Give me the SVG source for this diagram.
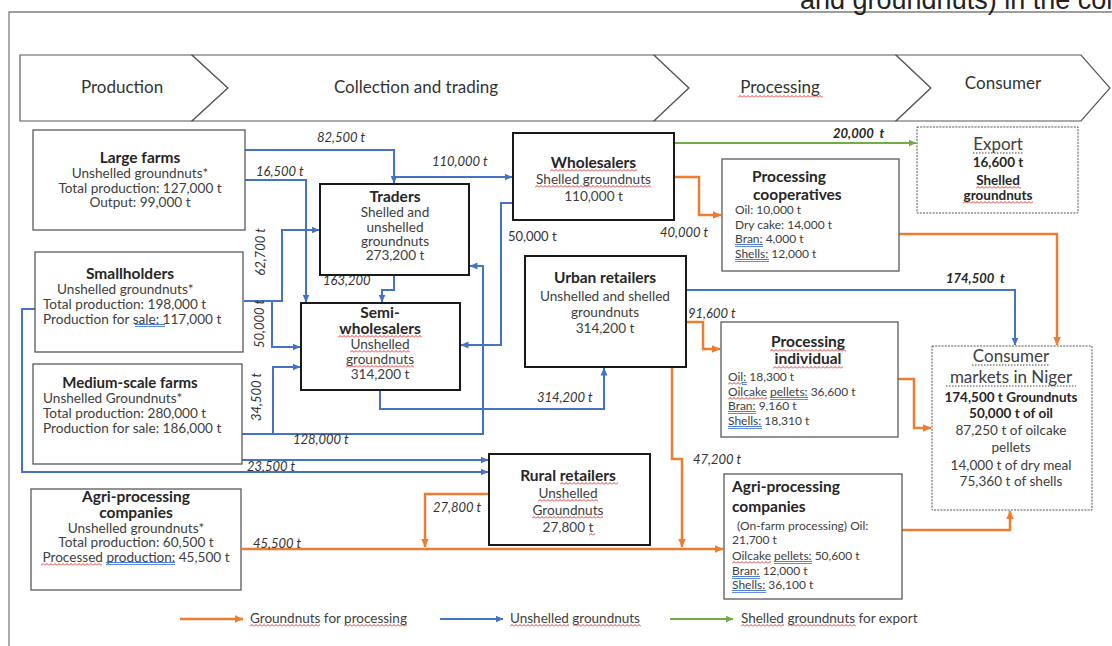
<svg xmlns="http://www.w3.org/2000/svg" width="1112" height="646" viewBox="0 0 1112 646">
<defs>
<style>
text{font-family:Lato,"Open Sans",sans-serif;fill:#404040}
.t{font-weight:700;font-size:15.5px;fill:#262626}
.b{font-size:13.6px}
.s{font-size:12px}
.m{text-anchor:middle}
.lbl{font-size:13px;font-style:italic;fill:#333}
.bi{font-weight:700;fill:#262626}
.hd{font-size:17px;fill:#333;text-anchor:middle}
.chev{fill:#fff;stroke:#595959;stroke-width:1.2}
.box{fill:#fff;stroke:#595959;stroke-width:1.3}
.bx2{fill:#fff;stroke:#1a1a1a;stroke-width:2}
.dot{fill:#fff;stroke:#555;stroke-width:1;stroke-dasharray:2 1.2}
.cb{fill:none;stroke:#4472C4;stroke-width:2}
.co{fill:none;stroke:#ED7D31;stroke-width:2.5}
.cg{fill:none;stroke:#70AD47;stroke-width:2}
.wv{fill:url(#wv)}
.du{fill:url(#du)}
.ul{stroke:#444;stroke-width:1;stroke-dasharray:1.5 1.5}
</style>
<pattern id="wv" width="4" height="3" patternUnits="userSpaceOnUse"><path d="M0,2.5 L2,0.5 L4,2.5" fill="none" stroke="#E02020" stroke-width="0.9"/></pattern>
<pattern id="du" width="4" height="4" patternUnits="userSpaceOnUse"><rect width="4" height="0.9" fill="#3B6FD1"/><rect y="2.2" width="4" height="0.9" fill="#3B6FD1"/></pattern>
<marker id="ab" viewBox="0 0 8 8" refX="7.5" refY="4" markerWidth="8" markerHeight="8" markerUnits="userSpaceOnUse" orient="auto"><path d="M0,0.5 L8,4 L0,7.5 z" fill="#4472C4"/></marker>
<marker id="ao" viewBox="0 0 8 8" refX="7.5" refY="4" markerWidth="9" markerHeight="9" markerUnits="userSpaceOnUse" orient="auto"><path d="M0,0.5 L8,4 L0,7.5 z" fill="#ED7D31"/></marker>
<marker id="ag" viewBox="0 0 8 8" refX="7.5" refY="4" markerWidth="8" markerHeight="8" markerUnits="userSpaceOnUse" orient="auto"><path d="M0,0.5 L8,4 L0,7.5 z" fill="#70AD47"/></marker>
</defs>
<rect width="1112" height="646" fill="#fff"/>
<path d="M9,646 V12 H1112" fill="none" stroke="#7f7f7f" stroke-width="1.3"/>
<text x="800" y="9" style="font-family:'Liberation Sans',Arial,sans-serif;font-size:27px;fill:#222">and groundnuts) in the context</text>

<g id="header">
<polygon class="chev" points="20,55 192,55 228,88 192,121 20,121"/>
<polygon class="chev" points="192,55 654,55 689,88 654,121 192,121 228,88"/>
<polygon class="chev" points="654,55 896,55 931,88 896,121 654,121 689,88"/>
<polygon class="chev" points="896,55 1081,55 1110,88 1081,121 896,121 931,88"/>
<text class="hd" x="122" y="93">Production</text>
<text class="hd" x="416" y="93">Collection  and trading</text>
<text class="hd" x="780" y="93">Processing</text>
<rect class="wv" width="85" height="3" transform="translate(738,95)"/>
<text class="hd" x="1003" y="89">Consumer</text>
</g>

<g id="connectors">
<path class="cb" d="M245,150 H394 V183" marker-end="url(#ab)"/>
<path class="cb" d="M394,177 H512" marker-end="url(#ab)"/>
<path class="cb" d="M245,180 H306 V302" marker-end="url(#ab)"/>
<path class="cb" d="M244,301 H282 V230 H319" marker-end="url(#ab)"/>
<path class="cb" d="M272,301 V347 H300" marker-end="url(#ab)"/>
<path class="cb" d="M242,434 H483 V266 H470" marker-end="url(#ab)"/>
<path class="cb" d="M273,434 V367 H300" marker-end="url(#ab)"/>
<path class="cb" d="M242,460 H488" marker-end="url(#ab)"/>
<path class="cb" d="M35,309 H22 V472 H488" marker-end="url(#ab)"/>
<path class="cb" d="M513,203 H501 V345 H461" marker-end="url(#ab)"/>
<path class="cb" d="M380,390 V409 H604 V368" marker-end="url(#ab)"/>
<path class="cb" d="M394,275 V290 H382 V302" marker-end="url(#ab)"/>
<path class="cb" d="M686,290 H1015 V345" marker-end="url(#ab)"/>
<path class="co" d="M675,177 H699 V215 H721" marker-end="url(#ao)"/>
<path class="co" d="M686,322 H703 V349 H720" marker-end="url(#ao)"/>
<path class="co" d="M672,367 V459 H682 V547" marker-end="url(#ao)"/>
<path class="co" d="M489,494 H425 V547" marker-end="url(#ao)"/>
<path class="co" d="M242,549 H723" marker-end="url(#ao)"/>
<path class="co" d="M899,234 H1057 V345" marker-end="url(#ao)"/>
<path class="co" d="M897,379 H914 V428 H931" marker-end="url(#ao)"/>
<path class="co" d="M902,530 H1010 V511" marker-end="url(#ao)"/>
<path class="cg" d="M675,143 H916" marker-end="url(#ag)"/>
<text class="lbl" x="317" y="142">82,500 t</text>
<text class="lbl" x="256" y="176">16,500 t</text>
<text class="lbl" x="432" y="166">110,000 t</text>
<text class="lbl m" transform="translate(265,252) rotate(-90)">62,700 t</text>
<text class="lbl m" transform="translate(264,324) rotate(-90)">50,000 t</text>
<text class="lbl m" transform="translate(261,397) rotate(-90)">34,500 t</text>
<text class="lbl" x="323" y="285">163,200</text>
<text class="lbl" x="293" y="444">128,000 t</text>
<text class="lbl" x="247" y="471">23,500 t</text>
<text x="508" y="241" style="font-size:13px;fill:#333">50,000 t</text>
<text class="lbl" x="537" y="402">314,200  t</text>
<text class="lbl" x="660" y="237">40,000 t</text>
<text class="lbl" x="688" y="318">91,600 t</text>
<text class="lbl" x="693" y="464">47,200 t</text>
<text class="lbl" x="433" y="512">27,800 t</text>
<text class="lbl" x="253" y="548">45,500 t</text>
<text class="lbl bi" x="833" y="138">20,000&#160; t</text>
<text class="lbl bi" x="946" y="283">174,500&#160; t</text>
</g>

<g id="large-farms">
<rect class="box" x="33" y="130" width="212" height="100"/>
<text class="t m" x="140" y="163">Large farms</text>
<text class="b m" x="140" y="178">Unshelled groundnuts*</text>
<text class="b m" x="140" y="193">Total production: 127,000 t</text>
<text class="b m" x="140" y="207">Output: 99,000 t</text>
</g>

<g id="smallholders">
<rect class="box" x="35" y="252" width="208" height="100"/>
<text class="t m" x="130" y="279">Smallholders</text>
<text class="b" x="57" y="294">Unshelled groundnuts*</text>
<text class="b" x="43" y="309">Total production: 198,000 t</text>
<text class="b" x="43" y="324">Production for sale: 117,000 t</text>
<rect class="du" width="30" height="3.1" transform="translate(135,324)"/>
</g>

<g id="medium-farms">
<rect class="box" x="33" y="364" width="209" height="100"/>
<text class="t m" x="130" y="388" style="font-size:15px">Medium-scale  farms</text>
<text class="b" x="43" y="403">Unshelled Groundnuts*</text>
<text class="b" x="43" y="418">Total production: 280,000 t</text>
<text class="b" x="43" y="433">Production for sale: 186,000 t</text>
</g>

<g id="agri-left">
<rect class="box" x="31" y="489" width="210" height="101"/>
<text class="t m" x="136" y="502">Agri-processing</text>
<text class="t m" x="136" y="518">companies</text>
<text class="b m" x="136" y="532.5">Unshelled groundnuts*</text>
<text class="b m" x="136" y="547">Total production: 60,500 t</text>
<text class="b m" x="136" y="562">Processed production: 45,500 t</text>
<rect class="wv" width="61" height="3" transform="translate(41,563)"/>
<rect class="du" width="69" height="3.1" transform="translate(106,562)"/>
</g>

<g id="traders">
<rect class="bx2" x="320" y="184" width="149" height="91"/>
<text class="t m" x="395" y="202">Traders</text>
<text class="b m" x="395" y="217">Shelled and</text>
<text class="b m" x="395" y="231.5">unshelled</text>
<text class="b m" x="395" y="246">groundnuts</text>
<text class="b m" x="395" y="260">273,200 t</text>
</g>

<g id="semi-wholesalers">
<rect class="bx2" x="301" y="303" width="159" height="87"/>
<text class="t m" x="380" y="318">Semi-</text>
<text class="t m" x="380" y="334">wholesalers</text>
<text class="b m" x="380" y="349">Unshelled</text>
<text class="b m" x="380" y="363.5">groundnuts</text>
<text class="b m" x="380" y="379">314,200 t</text>
<rect class="wv" width="84" height="3" transform="translate(338,335)"/>
<rect class="wv" width="60" height="3" transform="translate(350,350)"/>
<rect class="wv" width="68" height="3" transform="translate(346,365)"/>
</g>

<g id="wholesalers">
<rect class="bx2" x="513" y="133" width="161" height="87"/>
<text class="t m" x="593.5" y="168">Wholesalers</text>
<text class="b m" x="593.5" y="184">Shelled groundnuts</text>
<text class="b m" x="593.5" y="201">110,000 t</text>
<rect class="wv" width="87" height="3" transform="translate(550,169)"/>
<rect class="wv" width="116" height="3" transform="translate(535,185)"/>
</g>

<g id="urban-retailers">
<rect class="bx2" x="525" y="256" width="161" height="111"/>
<text class="t m" x="605" y="283">Urban retailers</text>
<text class="b m" x="605" y="301">Unshelled  and shelled</text>
<text class="b m" x="605" y="317">groundnuts</text>
<text class="b m" x="605" y="333">314,200 t</text>
</g>

<g id="rural-retailers">
<rect class="bx2" x="489" y="454" width="161" height="91"/>
<text class="t m" x="568" y="481">Rural retailers</text>
<text class="b m" x="568" y="498">Unshelled</text>
<text class="b m" x="568" y="515">Groundnuts</text>
<text class="b m" x="568" y="532">27,800 t</text>
<rect class="wv" width="58" height="3" transform="translate(560,482)"/>
<rect class="wv" width="60" height="3" transform="translate(538,499)"/>
<rect class="wv" width="71" height="3" transform="translate(532,516)"/>
<rect class="wv" width="6" height="3" transform="translate(589,533)"/>
</g>

<g id="processing-cooperatives">
<rect class="box" x="722" y="159" width="177" height="112"/>
<text class="t" x="752" y="182">Processing</text>
<text class="t" x="753" y="200">cooperatives</text>
<text class="s" x="735" y="214">Oil:  10,000  t</text>
<text class="s" x="735" y="229">Dry cake:  14,000  t</text>
<text class="s" x="735" y="243">Bran: 4,000 t</text>
<text class="s" x="735" y="258">Shells: 12,000 t</text>
<rect class="du" width="28" height="3.1" transform="translate(735,244)"/>
<rect class="du" width="34" height="3.1" transform="translate(735,259)"/>
</g>

<g id="processing-individual">
<rect class="box" x="721" y="322" width="177" height="115"/>
<text class="t m" x="808" y="347">Processing</text>
<text class="t m" x="808" y="364">individual</text>
<text class="s" x="728" y="381">Oil: 18,300 t</text>
<text class="s" x="728" y="396">Oilcake pellets: 36,600 t</text>
<text class="s" x="728" y="410">Bran: 9,160 t</text>
<text class="s" x="728" y="425">Shells: 18,310 t</text>
<rect class="wv" width="76" height="3" transform="translate(770,349)"/>
<rect class="wv" width="70" height="3" transform="translate(773,366)"/>
<rect class="wv" width="15" height="3" transform="translate(728,382)"/>
<rect class="du" width="5" height="3.1" transform="translate(742,382)"/>
<rect class="wv" width="39" height="3" transform="translate(728,397)"/>
<rect class="du" width="38" height="3.1" transform="translate(770,397)"/>
<rect class="du" width="28" height="3.1" transform="translate(728,411)"/>
<rect class="du" width="34" height="3.1" transform="translate(728,426)"/>
</g>

<g id="agri-right">
<rect class="box" x="724" y="474" width="178" height="125"/>
<text class="t" x="732" y="492">Agri-processing</text>
<text class="t" x="732" y="512">companies</text>
<text class="s" x="737" y="530">(On-farm  processing)  Oil:</text>
<text class="s" x="732" y="544">21,700  t</text>
<text class="s" x="732" y="560">Oilcake pellets: 50,600 t</text>
<text class="s" x="732" y="575">Bran: 12,000 t</text>
<text class="s" x="732" y="589">Shells: 36,100 t</text>
<rect class="wv" width="39" height="3" transform="translate(732,561)"/>
<rect class="du" width="38" height="3.1" transform="translate(774,561)"/>
<rect class="du" width="28" height="3.1" transform="translate(732,576)"/>
<rect class="du" width="34" height="3.1" transform="translate(732,590)"/>
</g>

<g id="export">
<rect class="dot" x="917" y="127" width="161" height="86"/>
<text class="m" x="998" y="150" style="font-size:17px">Export</text>
<line class="ul" x1="973" y1="153" x2="1023" y2="153"/>
<text class="bi m" x="998" y="167" style="font-size:13.5px">16,600 t</text>
<text class="bi m" x="998" y="185" style="font-size:13.5px">Shelled</text>
<text class="bi m" x="998" y="200" style="font-size:13.5px">groundnuts</text>
<rect class="wv" width="45" height="3" transform="translate(976,186)"/>
<rect class="wv" width="70" height="3" transform="translate(963,201)"/>
</g>

<g id="consumer-markets">
<rect class="dot" x="932" y="346" width="160" height="164"/>
<text class="m" x="1011" y="362" style="font-size:17px">Consumer</text>
<line class="ul" x1="972" y1="365" x2="1050" y2="365"/>
<text class="m" x="1011" y="383" style="font-size:17px">markets  in Niger</text>
<line class="ul" x1="946" y1="386" x2="1076" y2="386"/>
<text class="bi m" x="1011" y="402" style="font-size:13.5px">174,500 t Groundnuts</text>
<text class="bi m" x="1011" y="418" style="font-size:13.5px">50,000 t of oil</text>
<text class="b m" x="1011" y="435">87,250 t of oilcake</text>
<text class="b m" x="1011" y="452">pellets</text>
<text class="b m" x="1011" y="470">14,000 t of dry meal</text>
<text class="b m" x="1011" y="486">75,360 t of shells</text>
</g>

<g id="legend">
<path class="co" d="M180,619 H243" stroke-width="2" marker-end="url(#ao)"/>
<text x="250" y="623" style="font-size:13.5px">Groundnuts for processing</text>
<rect class="wv" width="70" height="3" transform="translate(250,624)"/>
<rect class="wv" width="63" height="3" transform="translate(344,624)"/>
<path class="cb" d="M440,619 H503" marker-end="url(#ab)"/>
<text x="510" y="623" style="font-size:13.5px">Unshelled groundnuts</text>
<rect class="wv" width="59" height="3" transform="translate(510,624)"/>
<rect class="wv" width="68" height="3" transform="translate(573,624)"/>
<path class="cg" d="M670,619 H733" marker-end="url(#ag)"/>
<text x="741" y="623" style="font-size:13.5px">Shelled groundnuts for export</text>
<rect class="wv" width="43" height="3" transform="translate(741,624)"/>
<rect class="wv" width="68" height="3" transform="translate(788,624)"/>
</g>
</svg>
